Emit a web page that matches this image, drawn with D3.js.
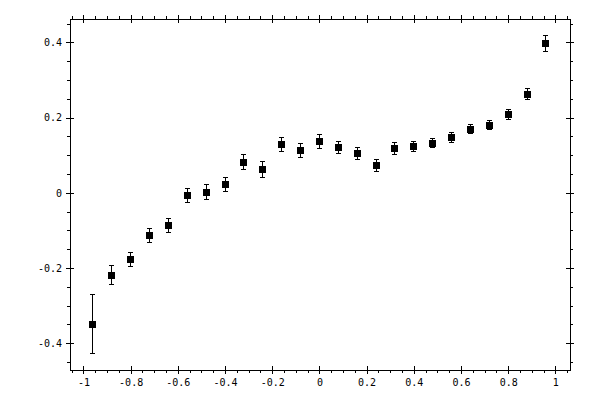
<!DOCTYPE html>
<html>
<head>
<meta charset="utf-8">
<script src="https://cdn.jsdelivr.net/npm/d3@7"></script>
<style>
  body { margin: 0; background: #fff; }
  svg { display: block; }
  .tick text { font-family: "DejaVu Sans Mono", monospace; font-size: 10px; fill: #000; }
</style>
</head>
<body>
<div id="plot"></div>
<script>
// data
const xValues = [-0.96, -0.88, -0.80, -0.72, -0.64, -0.56, -0.48, -0.40, -0.32, -0.24, -0.16, -0.08,
  0, 0.08, 0.16, 0.24, 0.32, 0.40, 0.48, 0.56, 0.64, 0.72, 0.80, 0.88, 0.96];
const yValues = [-0.349, -0.219, -0.177, -0.113, -0.086, -0.007, 0.001, 0.023, 0.081, 0.062, 0.129, 0.113,
  0.137, 0.121, 0.105, 0.073, 0.118, 0.124, 0.132, 0.147, 0.169, 0.179, 0.209, 0.262, 0.397];
const yErrors = [0.078, 0.025, 0.019, 0.019, 0.019, 0.019, 0.020, 0.019, 0.020, 0.020, 0.019, 0.019,
  0.018, 0.016, 0.016, 0.016, 0.016, 0.013, 0.012, 0.012, 0.012, 0.012, 0.013, 0.014, 0.021];
const xTicks = [-1, -0.8, -0.6, -0.4, -0.2, 0, 0.2, 0.4, 0.6, 0.8, 1];
const yTicks = [-0.4, -0.2, 0, 0.2, 0.4];

const points = xValues.map((x, i) => ({ x: x, y: yValues[i], e: yErrors[i] }));

const svgWidth = 600;
const svgHeight = 400;
const plotLeft = 70, plotRight = 570, plotTop = 19, plotBottom = 370;

const svg = d3.select("#plot")
  .append("svg")
  .attr("width", svgWidth)
  .attr("height", svgHeight)
  .attr("shape-rendering", "crispEdges");

const xScale = d3.scaleLinear().domain([-1.057, 1.062]).range([plotLeft, plotRight]);
const yScale = d3.scaleLinear().domain([-0.471, 0.462]).range([plotBottom, plotTop]);

// minor ticks every 0.05
const xMinor = d3.range(-1.05, 1.0601, 0.05).map(v => Math.round(v * 100) / 100)
  .filter(v => Math.abs(Math.round(v * 5) - v * 5) > 1e-6);
const yMinor = d3.range(-0.45, 0.4501, 0.05).map(v => Math.round(v * 100) / 100)
  .filter(v => Math.abs(Math.round(v * 5) - v * 5) > 1e-6);

const fmt = d => String(Math.round(d * 10) / 10);

function styleAxis(g, labels) {
  g.select(".domain").remove();
  g.selectAll(".tick line").attr("stroke", "#000").attr("stroke-width", 1);
  if (!labels) g.selectAll(".tick text").remove();
}

// bottom
const gB = svg.append("g").attr("transform", `translate(0,${plotBottom})`);
gB.call(d3.axisBottom(xScale).tickValues(xTicks).tickSize(4).tickPadding(5).tickFormat(fmt));
styleAxis(gB, true);
gB.selectAll(".tick line").attr("y1", -4);
const gBm = svg.append("g").attr("transform", `translate(0,${plotBottom})`);
gBm.call(d3.axisBottom(xScale).tickValues(xMinor).tickSize(3));
styleAxis(gBm, false);

// top
const gT = svg.append("g").attr("transform", `translate(0,${plotTop})`);
gT.call(d3.axisTop(xScale).tickValues(xTicks).tickSize(4));
styleAxis(gT, false);
gT.selectAll(".tick line").attr("y1", 4);
const gTm = svg.append("g").attr("transform", `translate(0,${plotTop})`);
gTm.call(d3.axisTop(xScale).tickValues(xMinor).tickSize(3));
styleAxis(gTm, false);

// left
const gL = svg.append("g").attr("transform", `translate(${plotLeft},0)`);
gL.call(d3.axisLeft(yScale).tickValues(yTicks).tickSize(4).tickPadding(4).tickFormat(fmt));
styleAxis(gL, true);
gL.selectAll(".tick line").attr("x1", 4);
const gLm = svg.append("g").attr("transform", `translate(${plotLeft},0)`);
gLm.call(d3.axisLeft(yScale).tickValues(yMinor).tickSize(3));
styleAxis(gLm, false);

// right
const gR = svg.append("g").attr("transform", `translate(${plotRight},0)`);
gR.call(d3.axisRight(yScale).tickValues(yTicks).tickSize(4));
styleAxis(gR, false);
gR.selectAll(".tick line").attr("x1", -4);
const gRm = svg.append("g").attr("transform", `translate(${plotRight},0)`);
gRm.call(d3.axisRight(yScale).tickValues(yMinor).tickSize(3));
styleAxis(gRm, false);

// frame
svg.append("rect")
  .attr("x", plotLeft + 0.5)
  .attr("y", plotTop + 0.5)
  .attr("width", plotRight - plotLeft)
  .attr("height", plotBottom - plotTop)
  .style("fill", "none")
  .style("stroke", "black")
  .style("stroke-width", 1);

// error bars
const bars = svg.append("g").attr("stroke", "#000").attr("stroke-width", 1);
bars.selectAll("line.bar")
  .data(points)
  .enter()
  .append("line")
  .attr("class", "bar")
  .attr("x1", d => xScale(d.x))
  .attr("x2", d => xScale(d.x))
  .attr("y1", d => yScale(d.y + d.e))
  .attr("y2", d => yScale(d.y - d.e));
bars.selectAll("line.capTop")
  .data(points)
  .enter()
  .append("line")
  .attr("class", "capTop")
  .attr("x1", d => xScale(d.x) - 2.5)
  .attr("x2", d => xScale(d.x) + 2.5)
  .attr("y1", d => yScale(d.y + d.e))
  .attr("y2", d => yScale(d.y + d.e));
bars.selectAll("line.capBottom")
  .data(points)
  .enter()
  .append("line")
  .attr("class", "capBottom")
  .attr("x1", d => xScale(d.x) - 2.5)
  .attr("x2", d => xScale(d.x) + 2.5)
  .attr("y1", d => yScale(d.y - d.e))
  .attr("y2", d => yScale(d.y - d.e));

// square markers
svg.append("g")
  .selectAll("rect")
  .data(points)
  .enter()
  .append("rect")
  .attr("x", d => xScale(d.x) - 3.5)
  .attr("y", d => yScale(d.y) - 3.5)
  .attr("width", 7)
  .attr("height", 7)
  .attr("fill", "#000");
</script>
</body>
</html>
